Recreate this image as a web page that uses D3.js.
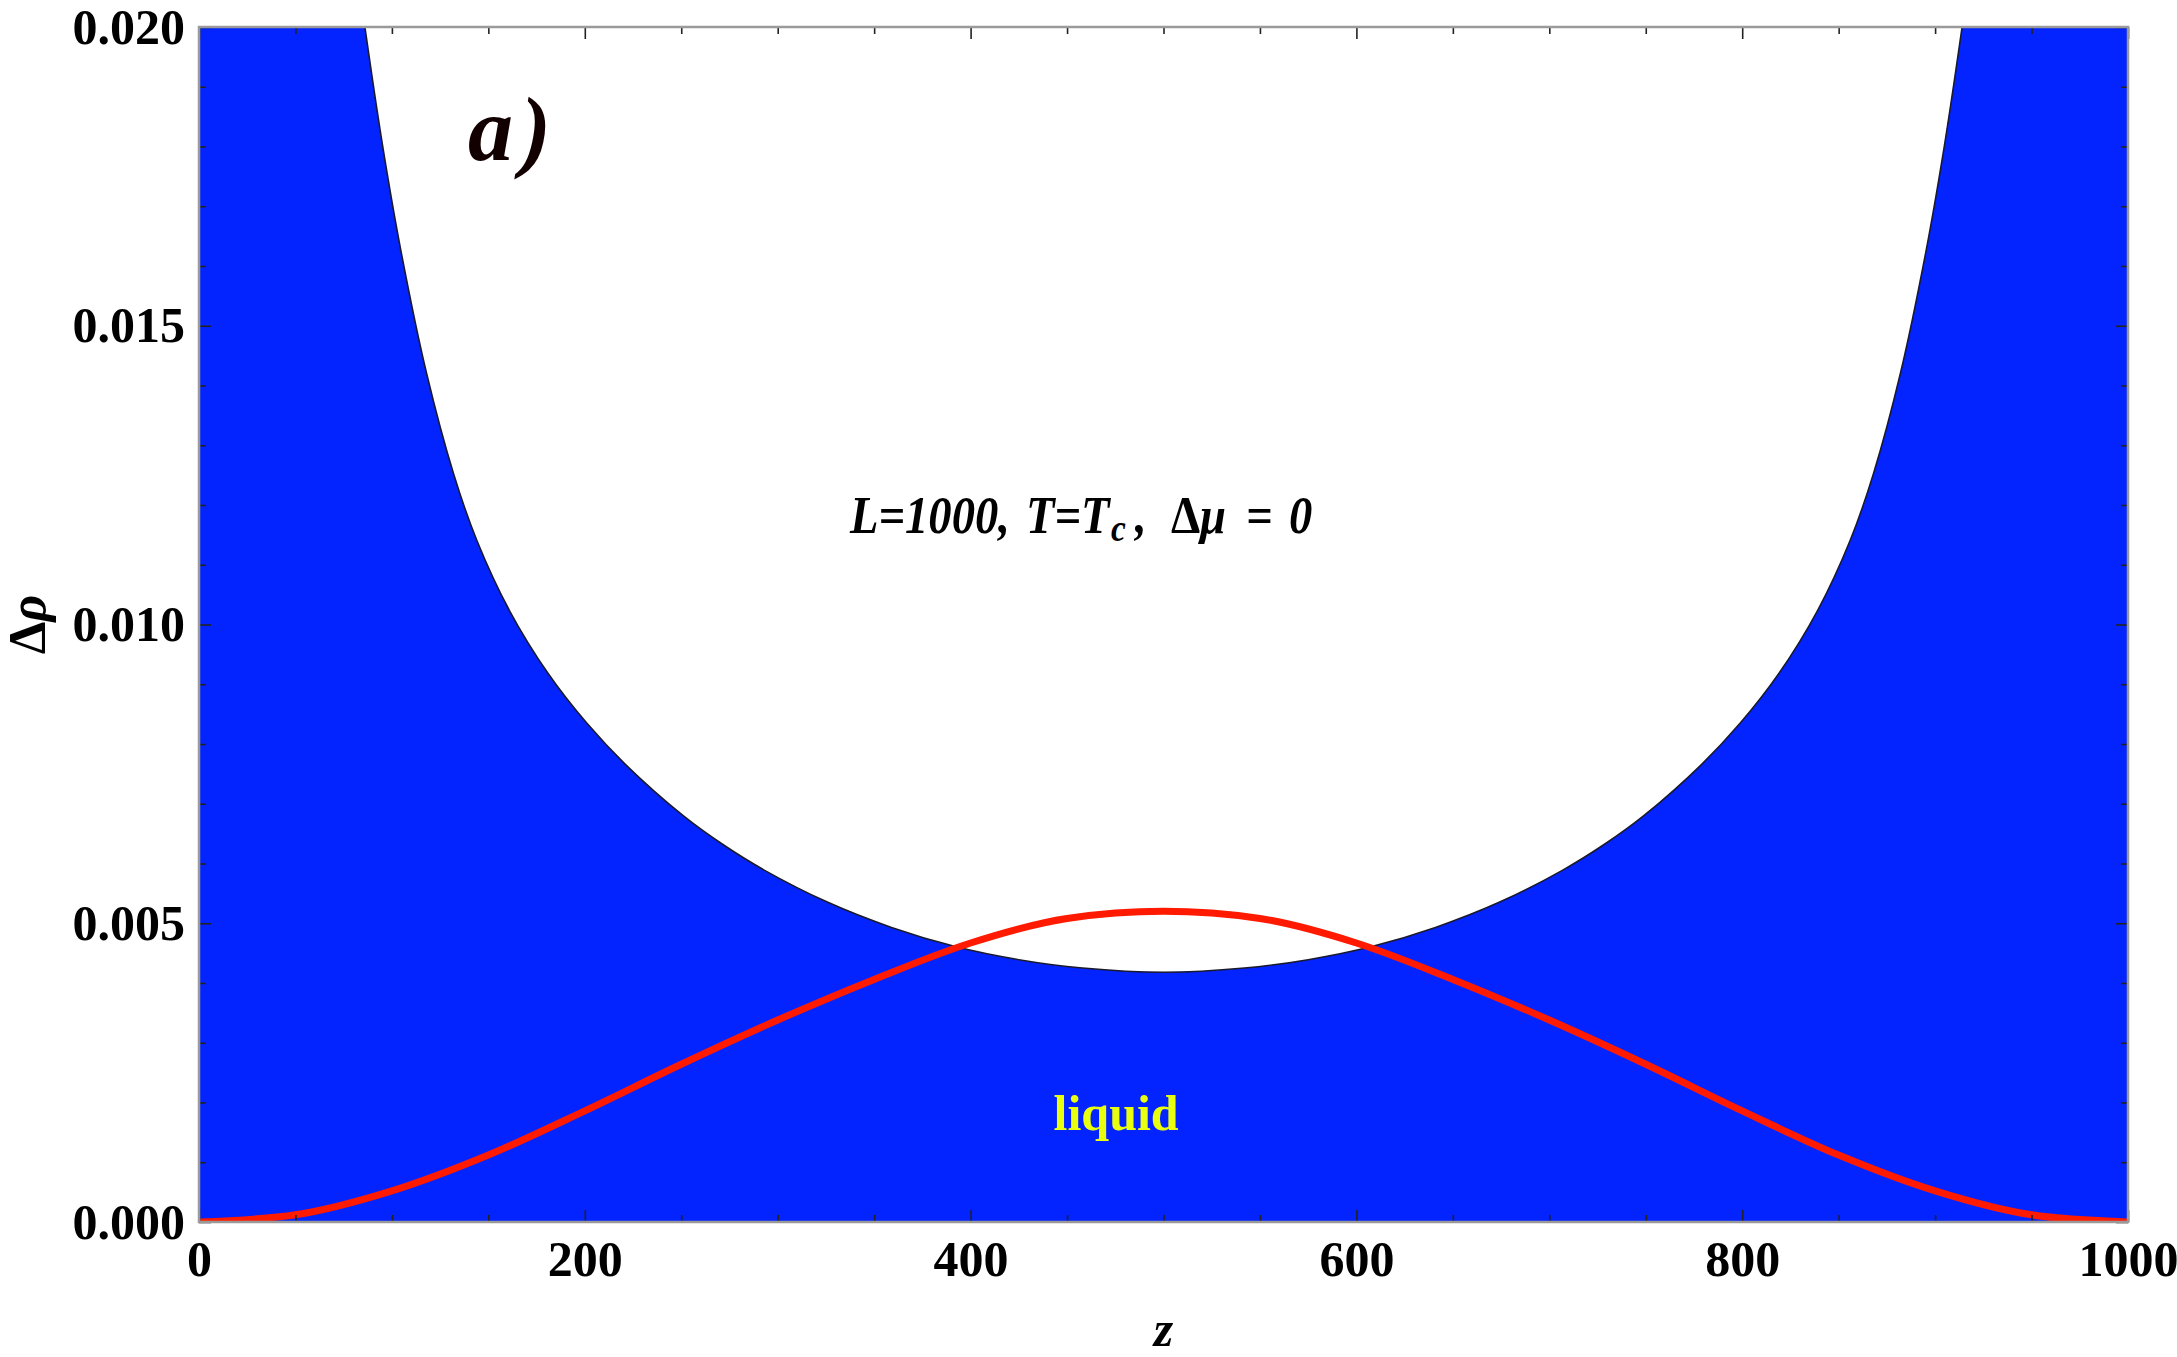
<!DOCTYPE html>
<html>
<head>
<meta charset="utf-8">
<script src="https://cdn.jsdelivr.net/npm/d3@7"></script>
<style>
  body { margin: 0; background: #fff; }
  svg { display: block; }
</style>
</head>
<body>
<div id="chart"></div>
<script>
// values (rho in absolute units)
const z_ticks = [0, 200, 400, 600, 800, 1000];
const z_tick_labels = ["0", "200", "400", "600", "800", "1000"];
const z_minor = [50, 100, 150, 250, 300, 350, 450, 500, 550, 650, 700, 750, 850, 900, 950];

const rho_ticks = [0, 0.005, 0.010, 0.015, 0.020];
const rho_tick_labels = ["0.000", "0.005", "0.010", "0.015", "0.020"];
const rho_minor = [0.001, 0.002, 0.003, 0.004, 0.006, 0.007, 0.008, 0.009,
                   0.011, 0.012, 0.013, 0.014, 0.016, 0.017, 0.018, 0.019];

// upper edge of the blue (liquid) region
const boundary_z = [86, 95, 105, 118, 132, 144, 161, 181, 201, 221, 251, 271, 293, 326, 359, 392, 425, 458, 500,
                    542, 575, 608, 641, 674, 707, 729, 749, 779, 799, 819, 839, 856, 868, 882, 895, 905, 914];
const boundary_rho = [0.0200, 0.01805, 0.0162, 0.0142, 0.01252, 0.01141, 0.01023, 0.00918, 0.00835, 0.00766,
                      0.0068, 0.00633, 0.00589, 0.00535, 0.00493, 0.00461, 0.00439, 0.00425, 0.00418,
                      0.00425, 0.00439, 0.00461, 0.00493, 0.00535, 0.00589, 0.00633, 0.0068,
                      0.00766, 0.00835, 0.00918, 0.01023, 0.01141, 0.01252, 0.0142, 0.0162, 0.01805, 0.0200];

// red density profile
const profile_z = [0, 50, 100, 150, 200, 250, 300, 350, 400, 450, 500,
                   550, 600, 650, 700, 750, 800, 850, 900, 950, 1000];
const profile_rho = [0, 0.00012, 0.00052, 0.00112, 0.00186, 0.00264, 0.00338, 0.00406, 0.00467, 0.00508, 0.00520,
                     0.00508, 0.00467, 0.00406, 0.00338, 0.00264, 0.00186, 0.00112, 0.00052, 0.00012, 0];

const W = 2177, H = 1357;
const margin = { top: 27, right: 49, bottom: 135, left: 199 };
const serif = "'Liberation Serif', 'Times New Roman', Times, serif";
const blue = "#0324ff";

let svg = d3.select("#chart").append("svg")
    .attr("width", W)
    .attr("height", H);

let x = d3.scaleLinear().domain([0, 1000]).range([margin.left, W - margin.right]);
let y = d3.scaleLinear().domain([0, 0.020]).range([H - margin.bottom, margin.top]);

svg.append("defs").append("clipPath")
    .attr("id", "plot_clip")
    .append("rect")
    .attr("x", x(0))
    .attr("y", y(0.020))
    .attr("width", x(1000) - x(0))
    .attr("height", y(0) - y(0.020));

let plot = svg.append("g").attr("clip-path", "url(#plot_clip)");

// blue everywhere, the white gap is cut out above the boundary
plot.append("rect")
    .attr("x", x(0))
    .attr("y", y(0.020))
    .attr("width", x(1000) - x(0))
    .attr("height", y(0) - y(0.020))
    .style("fill", blue);

let boundary = boundary_z.map((z, i) => ({ z: z, rho: boundary_rho[i] }));
let profile = profile_z.map((z, i) => ({ z: z, rho: profile_rho[i] }));

let smooth = d3.curveCatmullRom.alpha(0.5);

let gap = d3.area()
    .x(d => x(d.z))
    .y0(y(0.020) - 5)
    .y1(d => y(d.rho))
    .curve(smooth);

plot.append("path")
    .datum(boundary)
    .attr("d", gap)
    .style("fill", "#fff");

let edge = d3.line()
    .x(d => x(d.z))
    .y(d => y(d.rho))
    .curve(smooth);

plot.append("path")
    .datum(boundary)
    .attr("d", edge)
    .style("fill", "none")
    .style("stroke", "#1a1a2e")
    .style("stroke-width", 1.6);

let line = d3.line()
    .x(d => x(d.z))
    .y(d => y(d.rho))
    .curve(d3.curveMonotoneX);

plot.append("path")
    .datum(profile)
    .attr("d", line)
    .style("fill", "none")
    .style("stroke", "#ff1a00")
    .style("stroke-width", 7);

///////////////////////  axes (ticks point inward, Mathematica frame)
function style_ticks(g) {
    g.select(".domain").remove();
    g.selectAll(".tick line").style("stroke", "#222").style("stroke-width", 1.6);
    g.selectAll(".tick text")
        .style("font-family", serif)
        .style("font-weight", "bold")
        .style("font-size", "50px")
        .style("fill", "#000");
}

svg.append("g")
    .attr("transform", `translate(0,${y(0)})`)
    .call(d3.axisBottom(x).tickValues(z_ticks).tickSize(-12).tickPadding(18)
        .tickFormat((d, i) => z_tick_labels[i]))
    .call(style_ticks);
svg.append("g")
    .attr("transform", `translate(0,${y(0)})`)
    .call(d3.axisBottom(x).tickValues(z_minor).tickSize(-7).tickFormat(""))
    .call(style_ticks);
svg.append("g")
    .attr("transform", `translate(0,${y(0.020)})`)
    .call(d3.axisTop(x).tickValues(z_ticks).tickSize(-12).tickFormat(""))
    .call(style_ticks);
svg.append("g")
    .attr("transform", `translate(0,${y(0.020)})`)
    .call(d3.axisTop(x).tickValues(z_minor).tickSize(-7).tickFormat(""))
    .call(style_ticks);

svg.append("g")
    .attr("transform", `translate(${x(0)},0)`)
    .call(d3.axisLeft(y).tickValues(rho_ticks).tickSize(-12).tickPadding(14)
        .tickFormat((d, i) => rho_tick_labels[i]))
    .call(style_ticks);
svg.append("g")
    .attr("transform", `translate(${x(0)},0)`)
    .call(d3.axisLeft(y).tickValues(rho_minor).tickSize(-7).tickFormat(""))
    .call(style_ticks);
svg.append("g")
    .attr("transform", `translate(${x(1000)},0)`)
    .call(d3.axisRight(y).tickValues(rho_ticks).tickSize(-12).tickFormat(""))
    .call(style_ticks);
svg.append("g")
    .attr("transform", `translate(${x(1000)},0)`)
    .call(d3.axisRight(y).tickValues(rho_minor).tickSize(-7).tickFormat(""))
    .call(style_ticks);

// frame
svg.append("rect")
    .attr("x", x(0))
    .attr("y", y(0.020))
    .attr("width", x(1000) - x(0))
    .attr("height", y(0) - y(0.020))
    .style("fill", "none")
    .style("stroke", "#9a9a9a")
    .style("stroke-width", 2.5);

///////////////////////  labels
svg.append("text")
    .attr("x", x(500))
    .attr("y", 1346)
    .attr("text-anchor", "middle")
    .style("font-family", serif)
    .style("font-weight", "bold")
    .style("font-style", "italic")
    .style("font-size", "50px")
    .text("z");

let ylab = svg.append("text")
    .attr("transform", `translate(45,${y(0.010)}) rotate(-90)`)
    .attr("text-anchor", "middle")
    .style("font-family", serif)
    .style("font-weight", "bold")
    .style("font-size", "52px");
ylab.append("tspan").text("Δ");
ylab.append("tspan").style("font-style", "italic").text("ρ");

let panel = svg.append("text")
    .attr("x", 468)
    .attr("y", 160)
    .style("font-family", serif)
    .style("font-weight", "bold")
    .style("font-style", "italic")
    .style("font-size", "90px")
    .style("fill", "#120000");
panel.append("tspan").text("a");
panel.append("tspan").attr("dx", 8).text(")");

// condition note, set piece by piece (the original font is narrower)
function note_piece(px, text, opts) {
    opts = opts || {};
    return svg.append("text")
        .attr("transform", `translate(${px},${533 + (opts.dy || 0)}) scale(0.88,1)`)
        .style("font-family", serif)
        .style("font-weight", "bold")
        .style("font-style", opts.upright ? "normal" : "italic")
        .style("font-size", (opts.size || 53) + "px")
        .style("fill", "#000")
        .text(text);
}
note_piece(850, "L=1000,");
note_piece(1026, "T=T");
note_piece(1111, "c", { dy: 8, size: 38 });
note_piece(1135, ",");
note_piece(1171, "Δ", { upright: true });
note_piece(1200, "μ");
note_piece(1246, "=");
note_piece(1289, "0");

svg.append("text")
    .attr("x", x(443))
    .attr("y", y(0.00154))
    .style("font-family", serif)
    .style("font-weight", "bold")
    .style("font-size", "50px")
    .style("fill", "#e8ff10")
    .text("liquid");
</script>
</body>
</html>
